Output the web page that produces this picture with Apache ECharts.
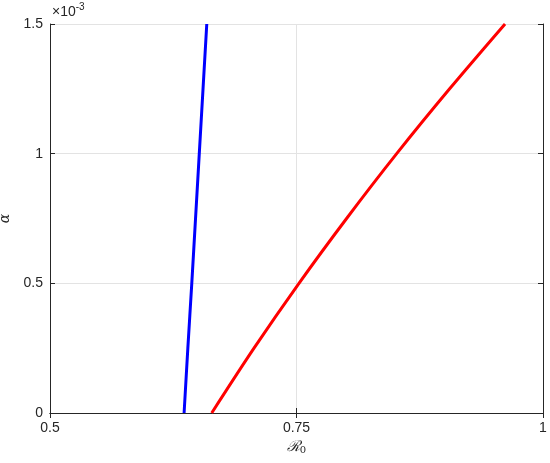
<!DOCTYPE html>
<html>
<head>
<meta charset="utf-8">
<script src="https://cdn.jsdelivr.net/npm/echarts@6/dist/echarts.min.js"></script>
<style>html,body{margin:0;padding:0;background:#fff}#c{width:550px;height:463px}</style>
</head>
<body>
<div id="c"></div>
<script>
// alpha values (y)
var alphaValues = [0, 0.00025, 0.0005, 0.00075, 0.001, 0.00125, 0.0015];
// R0 values (x) for blue curve
var blueR0 = [0.636, 0.6398, 0.6438, 0.6476, 0.6514, 0.6552, 0.659];
// R0 values (x) for red curve
var redR0 = [0.664, 0.7069, 0.7525, 0.8008, 0.8516, 0.9053, 0.9615];
var xTicks = [0.5, 0.75, 1];
var yTicks = [0, 0.0005, 0.001, 0.0015];

function pairs(xs, ys){ return xs.map(function(x,i){ return [x, ys[i]]; }); }

var axisColor = '#262626';
var labelFont = {fontFamily: 'Liberation Sans, Arial, sans-serif', fontSize: 14, color: axisColor};

var chart = echarts.init(document.getElementById('c'), null, {renderer: 'canvas'});
chart.setOption({
  animation: false,
  backgroundColor: '#ffffff',
  grid: {left: 50, right: 7, top: 24, bottom: 50, containLabel: false, outerBoundsMode: 'none'},
  xAxis: [{
    type: 'value', min: xTicks[0], max: xTicks[xTicks.length-1], interval: 0.25,
    position: 'bottom',
    axisLine: {show: true, onZero: false, lineStyle: {color: axisColor, width: 1}},
    axisTick: {show: true, inside: true, length: 5, lineStyle: {color: axisColor}},
    axisLabel: Object.assign({margin: 8, formatter: function(v){ return String(Math.round(v*100)/100); }}, labelFont),
    splitLine: {show: true, lineStyle: {color: '#e3e3e3', width: 1}},
    name: '{r|ℛ}{s|0}', nameLocation: 'middle', nameGap: 24,
    nameTextStyle: {rich: {
      r: {fontFamily: 'DejaVu Serif, serif', fontStyle: 'italic', fontSize: 15, color: axisColor},
      s: {fontFamily: 'DejaVu Serif, serif', fontSize: 10, color: axisColor, verticalAlign: 'bottom', padding: [6,0,0,0]}
    }}
  },{
    type: 'value', min: xTicks[0], max: xTicks[xTicks.length-1], interval: 0.25,
    position: 'top',
    axisLine: {show: true, lineStyle: {color: axisColor, width: 1}},
    axisTick: {show: true, inside: true, length: 5, lineStyle: {color: axisColor}},
    axisLabel: {show: false}, splitLine: {show: false}
  }],
  yAxis: [{
    type: 'value', min: yTicks[0], max: yTicks[yTicks.length-1], interval: 0.0005,
    position: 'left',
    axisLine: {show: true, onZero: false, lineStyle: {color: axisColor, width: 1}},
    axisTick: {show: true, inside: true, length: 5, lineStyle: {color: axisColor}},
    axisLabel: Object.assign({margin: 7, formatter: function(v){ return String(Math.round(v*10000)/10); }}, labelFont),
    splitLine: {show: true, lineStyle: {color: '#e3e3e3', width: 1}},
    name: 'α', nameLocation: 'middle', nameGap: 38, nameRotate: 90,
    nameTextStyle: {fontFamily: 'DejaVu Serif, serif', fontStyle: 'italic', fontSize: 14, color: axisColor}
  },{
    type: 'value', min: yTicks[0], max: yTicks[yTicks.length-1], interval: 0.0005,
    position: 'right',
    axisLine: {show: true, lineStyle: {color: axisColor, width: 1}},
    axisTick: {show: true, inside: true, length: 5, lineStyle: {color: axisColor}},
    axisLabel: {show: false}, splitLine: {show: false}
  }],
  graphic: [{
    type: 'text', left: 52, top: 2,
    style: {
      text: '{a|×10}{b|-3}',
      rich: {
        a: {fontFamily: 'Liberation Sans, Arial, sans-serif', fontSize: 14, fill: axisColor, verticalAlign: 'bottom'},
        b: {fontFamily: 'Liberation Sans, Arial, sans-serif', fontSize: 10, fill: axisColor, verticalAlign: 'top', padding: [0,0,7,0]}
      }
    }
  }],
  series: [{
    type: 'line', data: pairs(blueR0, alphaValues), showSymbol: false, smooth: 0.3,
    lineStyle: {color: '#0000ff', width: 3}, clip: true
  },{
    type: 'line', data: pairs(redR0, alphaValues), showSymbol: false, smooth: 0.3,
    lineStyle: {color: '#ff0000', width: 3}, clip: true
  }]
});
</script>
</body>
</html>
